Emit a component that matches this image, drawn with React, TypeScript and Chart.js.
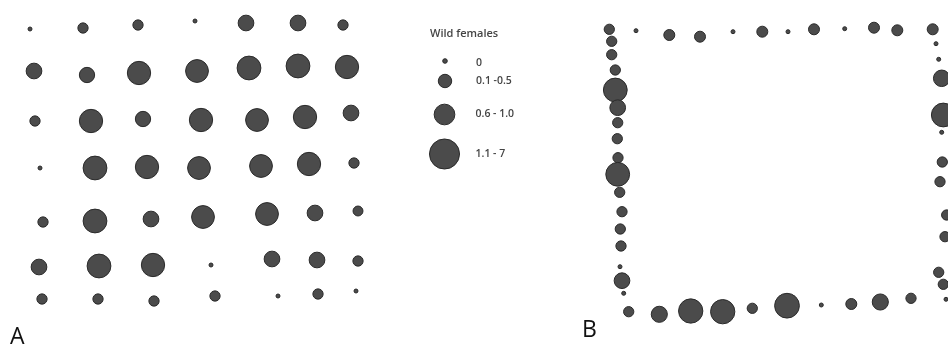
import React, { useEffect, useRef } from "react";
import { Chart, registerables } from "chart.js";

Chart.register(...registerables);

// ---------- Panel A: 7 x 7 trap grid (field units) ----------
const gridAX: number[][] = [
  [3.0, 8.3, 13.8, 19.5, 24.6, 29.8, 34.3],
  [3.4, 8.7, 13.9, 19.7, 24.9, 29.8, 34.7],
  [3.5, 9.1, 14.3, 20.1, 25.7, 30.5, 35.1],
  [4.0, 9.5, 14.7, 19.9, 26.1, 30.9, 35.4],
  [4.3, 9.5, 15.1, 20.3, 26.7, 31.5, 35.8],
  [3.9, 9.9, 15.3, 21.1, 27.2, 31.7, 35.8],
  [4.2, 9.8, 15.4, 21.5, 27.8, 31.8, 35.6],
];
const gridAY: number[][] = [
  [2.9, 2.8, 2.5, 2.1, 2.3, 2.3, 2.5],
  [7.1, 7.5, 7.3, 7.1, 6.8, 6.6, 6.7],
  [12.1, 12.1, 11.9, 12.0, 12.0, 11.7, 11.3],
  [16.8, 16.8, 16.7, 16.8, 16.6, 16.4, 16.3],
  [22.2, 22.1, 21.9, 21.7, 21.4, 21.3, 21.1],
  [26.7, 26.6, 26.5, 26.5, 25.9, 26.0, 26.1],
  [29.9, 29.9, 30.1, 29.6, 29.6, 29.4, 29.1],
];
const gridAFemales: number[][] = [
  [0, 0.2, 0.2, 0, 0.7, 0.7, 0.2],
  [0.7, 0.65, 1.9, 1.8, 2.0, 2.0, 1.9],
  [0.2, 1.9, 0.65, 1.9, 1.8, 1.9, 0.7],
  [0, 2.0, 1.9, 1.8, 1.8, 1.9, 0.2],
  [0.2, 2.0, 0.7, 1.8, 1.8, 0.7, 0.18],
  [0.7, 2.0, 1.9, 0, 0.7, 0.7, 0.2],
  [0.2, 0.2, 0.2, 0.2, 0, 0.2, 0],
];

// ---------- Panel B: perimeter traps (field units) ----------
const perimBX: number[] = [
  // top
  4.93, 7.6, 10.93, 14.0, 17.3, 20.23, 22.8, 25.4, 28.47, 31.4, 33.73, 37.27,
  // left
  5.17, 5.17, 5.53, 5.53, 5.77, 5.77, 5.73, 5.8, 5.77, 5.97, 6.2, 6.03, 6.1, 6.0, 6.2, 6.37,
  // bottom
  6.87, 9.93, 13.07, 16.27, 19.23, 22.7, 26.13, 29.13, 32.03, 35.1,
  // right
  37.6, 37.87, 38.17, 38.33, 38.17, 38.23, 38.0, 38.67, 38.5, 37.87, 38.33, 38.6,
];
const perimBY: number[] = [
  2.93, 3.07, 3.5, 3.67, 3.17, 3.17, 3.17, 2.93, 2.87, 2.77, 3.03, 2.93,
  4.13, 5.47, 7.0, 9.0, 10.77, 12.27, 13.87, 15.77, 17.43, 19.23, 21.17, 22.9, 24.6, 26.67, 28.07, 29.33,
  31.17, 31.43, 31.1, 31.17, 30.83, 30.57, 30.5, 30.4, 30.2, 29.83,
  4.37, 5.93, 7.83, 11.5, 13.23, 16.2, 18.17, 21.5, 23.67, 27.23, 28.43, 29.93,
];
const perimBFemales: number[] = [
  0.2, 0, 0.25, 0.25, 0, 0.25, 0, 0.25, 0, 0.25, 0.25, 0.25,
  0.2, 0.2, 0.2, 2.0, 0.7, 0.2, 0.2, 0.2, 2.0, 0.2, 0.2, 0.2, 0.2, 0, 0.7, 0,
  0.2, 0.75, 2.1, 2.1, 0.2, 2.2, 0, 0.25, 0.75, 0.2,
  0, 0, 0.8, 2.0, 0, 0.2, 0.2, 0.2, 0.2, 0.2, 0.2, 0,
];

// ---------- Legend ----------
const legendTitle = "Wild females";
const legendLabels = ["0", "0.1 -0.5", "0.6 - 1.0", "1.1 - 7"];
const legendValues = [0, 0.3, 1.0, 2.5];
const legendX = [4.5, 4.5, 4.45, 4.45];
const legendY = [6.1, 8.1, 11.45, 15.4];

const FILL = "#4b4b4b";
const EDGE = "#2a2a2a";
const TEXT = "#444444";
const FONT = "'Open Sans', 'Liberation Sans', sans-serif";

function radiusFor(v: number): number {
  return v <= 0 ? 2 : 2 + 7 * Math.sqrt(v);
}

function buildChart(
  canvas: HTMLCanvasElement,
  points: { x: number; y: number; r: number }[],
  xMax: number,
  yMax: number,
  plugin: any
): Chart {
  return new Chart(canvas, {
    type: "bubble",
    data: {
      datasets: [
        {
          data: points,
          backgroundColor: FILL,
          borderColor: EDGE,
          borderWidth: 1,
          clip: false as any,
        },
      ],
    },
    options: {
      responsive: false,
      animation: false,
      events: [],
      layout: { padding: 0, autoPadding: false },
      plugins: { legend: { display: false }, tooltip: { enabled: false } },
      scales: {
        x: { type: "linear", min: 0, max: xMax, display: false },
        y: { type: "linear", min: 0, max: yMax, reverse: true, display: false },
      },
    },
    plugins: [plugin],
  } as any);
}

function panelLabel(text: string, x: number, y: number) {
  return {
    id: "panelLabel" + text,
    afterDraw(chart: any) {
      const ctx = chart.ctx;
      ctx.save();
      ctx.fillStyle = "#111";
      ctx.font = `23px ${FONT}`;
      ctx.textBaseline = "alphabetic";
      ctx.fillText(text, x, y);
      ctx.restore();
    },
  };
}

const legendPlugin = {
  id: "legendText",
  afterDraw(chart: any) {
    const ctx = chart.ctx;
    const meta = chart.getDatasetMeta(0);
    ctx.save();
    ctx.fillStyle = TEXT;
    ctx.font = `600 11px ${FONT}`;
    ctx.textBaseline = "alphabetic";
    ctx.fillText(legendTitle, 30, 37);
    ctx.font = `600 10.5px ${FONT}`;
    ctx.textBaseline = "middle";
    meta.data.forEach((el: any, i: number) => {
      ctx.fillText(legendLabels[i], el.x + 31, el.y + (i === 0 ? 2 : 0));
    });
    ctx.restore();
  },
};

export default function App() {
  const refA = useRef<HTMLCanvasElement>(null);
  const refL = useRef<HTMLCanvasElement>(null);
  const refB = useRef<HTMLCanvasElement>(null);

  useEffect(() => {
    const ptsA: { x: number; y: number; r: number }[] = [];
    gridAX.forEach((row, i) =>
      row.forEach((x, j) =>
        ptsA.push({ x, y: gridAY[i][j], r: radiusFor(gridAFemales[i][j]) })
      )
    );
    const ptsB = perimBX.map((x, i) => ({
      x,
      y: perimBY[i],
      r: radiusFor(perimBFemales[i]),
    }));
    const ptsL = legendValues.map((v, i) => ({
      x: legendX[i],
      y: legendY[i],
      r: radiusFor(v) * 1.15,
    }));

    const cA = buildChart(refA.current!, ptsA, 40, 34.7, panelLabel("A", 10, 344));
    const cL = buildChart(refL.current!, ptsL, 16, 20, legendPlugin);
    const cB = buildChart(refB.current!, ptsB, 38.8, 34.7, panelLabel("B", 22, 337));
    return () => {
      cA.destroy();
      cL.destroy();
      cB.destroy();
    };
  }, []);

  return (
    <div
      style={{
        position: "absolute",
        left: 0,
        top: 0,
        width: 948,
        height: 347,
        background: "#fff",
        overflow: "hidden",
      }}
    >
      <canvas ref={refA} width={400} height={347} style={{ position: "absolute", left: 0, top: 0 }} />
      <canvas ref={refL} width={160} height={200} style={{ position: "absolute", left: 400, top: 0 }} />
      <canvas ref={refB} width={388} height={347} style={{ position: "absolute", left: 560, top: 0 }} />
    </div>
  );
}
